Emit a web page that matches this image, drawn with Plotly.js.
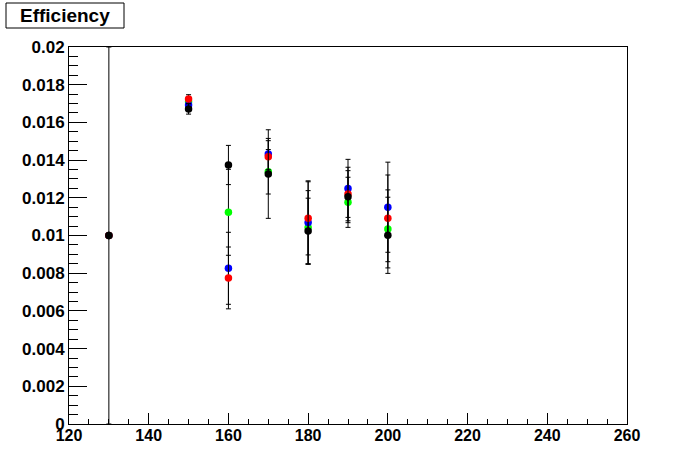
<!DOCTYPE html>
<html>
<head>
<meta charset="utf-8">
<script src="https://cdn.plot.ly/plotly-3.0.1.min.js"></script>
<style>html,body{margin:0;padding:0;background:#fff;}#chart{width:696px;height:472px;}</style>
</head>
<body>
<div id="chart"></div>
<script>
// Data
var xValues = [130, 150, 160, 170, 180, 190, 200];

var greenY   = [0.0100, 0.01710, 0.01123, 0.01338, 0.01043, 0.01176, 0.01035];
var greenErr = [0, 0.00025, 0.00228, 0.00118, 0.00195, 0.00133, 0.00207];

var blueY    = [0.0100, 0.01692, 0.00826, 0.01432, 0.01069, 0.01250, 0.01150];
var blueErr  = [0, 0.00025, 0.00191, 0.00083, 0.00221, 0.00154, 0.00239];

var redY     = [0.0100, 0.01724, 0.00775, 0.01418, 0.01091, 0.01220, 0.01091];
var redErr   = [0, 0.00023, 0.00164, 0.00085, 0.00194, 0.00142, 0.00230];

var blackY   = [0.0100, 0.01671, 0.01374, 0.01326, 0.01024, 0.01206, 0.01001];
var blackErr = [0.0100, 0.00027, 0.00104, 0.00235, 0.00174, 0.00138, 0.00202];

var xTickVals = [120, 140, 160, 180, 200, 220, 240, 260];
var xTickLabels = ["120", "140", "160", "180", "200", "220", "240", "260"];
var yTickVals = [0, 0.002, 0.004, 0.006, 0.008, 0.01, 0.012, 0.014, 0.016, 0.018, 0.02];
var yTickLabels = ["0", "0.002", "0.004", "0.006", "0.008", "0.01", "0.012", "0.014", "0.016", "0.018", "0.02"];
var titleText = "Efficiency";

function series(y, err, color) {
  return {
    x: xValues, y: y, type: 'scatter', mode: 'markers',
    marker: {color: color, size: 7.5, line: {width: 0}},
    error_y: {type: 'data', array: err, visible: true, color: '#000', thickness: 1, width: 2.5},
    hoverinfo: 'x+y', showlegend: false
  };
}

var data = [
  series(greenY, greenErr, '#00ff00'),
  series(blueY, blueErr, '#0000ff'),
  series(redY, redErr, '#ff0000'),
  series(blackY, blackErr, '#000000')
];

var tickFont = {family: '"Liberation Sans", Arial, sans-serif', size: 17, color: '#000', weight: 'bold'};

var layout = {
  width: 696, height: 472,
  margin: {l: 69, r: 69, t: 47, b: 48, pad: 0},
  paper_bgcolor: '#fff', plot_bgcolor: '#fff',
  showlegend: false,
  xaxis: {
    range: [120, 260], tickmode: 'array', tickvals: xTickVals, ticktext: xTickLabels,
    ticks: 'inside', ticklen: 11, tickwidth: 1, tickcolor: '#000',
    minor: {dtick: 5, ticks: 'inside', ticklen: 5, tickwidth: 1, tickcolor: '#000', showgrid: false},
    showgrid: false, zeroline: false, showline: true, linecolor: '#000', linewidth: 1, mirror: true,
    tickfont: {family: tickFont.family, size: 16, color: '#000', weight: 'bold'},
    ticklabelstandoff: -3
  },
  yaxis: {
    range: [0, 0.02], tickmode: 'array', tickvals: yTickVals, ticktext: yTickLabels,
    ticks: 'inside', ticklen: 18, tickwidth: 1, tickcolor: '#000',
    minor: {dtick: 0.0005, tick0: 0, ticks: 'inside', ticklen: 9, tickwidth: 1, tickcolor: '#000', showgrid: false},
    showgrid: false, zeroline: false, showline: true, linecolor: '#000', linewidth: 1, mirror: true,
    tickfont: tickFont
  },
  shapes: [{
    type: 'rect', xref: 'paper', yref: 'paper',
    x0: (6 - 69) / 558, x1: (124 - 69) / 558, y0: (424 - 28) / 377, y1: (424 - 3) / 377,
    line: {color: '#000', width: 1}, fillcolor: '#fff', layer: 'above'
  }],
  annotations: [{
    xref: 'paper', yref: 'paper', x: (65 - 69) / 558, y: (424 - 15.5) / 377,
    xanchor: 'center', yanchor: 'middle', showarrow: false,
    text: titleText,
    font: {family: '"Liberation Sans", Arial, sans-serif', size: 19, color: '#000', weight: 'bold'}
  }]
};

Plotly.newPlot('chart', data, layout, {staticPlot: true, displayModeBar: false});
</script>
</body>
</html>
